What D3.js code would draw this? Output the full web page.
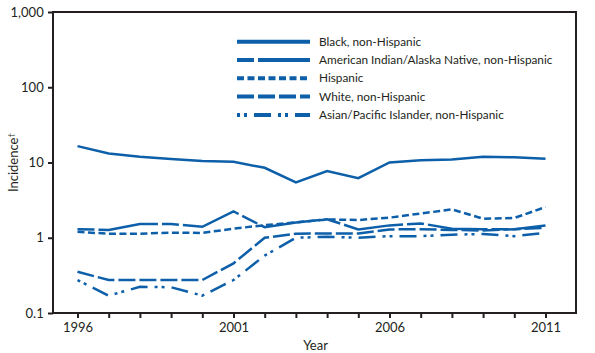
<!DOCTYPE html>
<html>
<head>
<meta charset="utf-8">
<script src="https://cdn.jsdelivr.net/npm/d3@7"></script>
<style>
  body { margin: 0; background: #fff; }
  svg text { font-family: Lato, "Open Sans", sans-serif; fill: #231f20; }
</style>
</head>
<body>
<script>
const years = d3.range(1996, 2012);
const black = [16.5, 13.2, 11.9, 11.1, 10.5, 10.2, 8.5, 5.45, 7.7, 6.2, 10.0, 10.7, 11.0, 11.9, 11.7, 11.2];
const aian = [1.3, 1.27, 1.52, 1.52, 1.4, 2.24, 1.38, 1.6, 1.76, 1.29, 1.46, 1.55, 1.32, 1.3, 1.3, 1.45];
const hispanic = [1.2, 1.13, 1.13, 1.17, 1.16, 1.32, 1.47, 1.6, 1.75, 1.72, 1.85, 2.1, 2.38, 1.79, 1.83, 2.56];
const white = [0.353, 0.274, 0.274, 0.274, 0.274, 0.457, 1.0, 1.13, 1.14, 1.14, 1.29, 1.3, 1.27, 1.25, 1.3, 1.35];
const asian = [0.274, 0.17, 0.223, 0.22, 0.17, 0.274, 0.58, 1.0, 1.03, 1.0, 1.05, 1.05, 1.1, 1.12, 1.05, 1.16];
const seriesNames = ["Black, non-Hispanic", "American Indian/Alaska Native, non-Hispanic", "Hispanic", "White, non-Hispanic", "Asian/Pacific Islander, non-Hispanic"];
const yTicks = [0.1, 1, 10, 100, 1000];
const xLabelYears = [1996, 2001, 2006, 2011];

const W = 595, H = 353;
const plot = { left: 53, right: 576, top: 12, bottom: 313 };
const blue = "#0c5fa8";
const ink = "#231f20";

const series = [
  { name: seriesNames[0], values: black, dash: null },
  { name: seriesNames[1], values: aian, dash: "17,4,60,4" },
  { name: seriesNames[2], values: hispanic, dash: "7,3.5" },
  { name: seriesNames[3], values: white, dash: "17,4" },
  { name: seriesNames[4], values: asian, dash: "3,4,3,7,17,7" }
];

const svg = d3.select("body").append("svg")
  .attr("width", W).attr("height", H);

const x = d3.scaleLinear().domain([1996, 2011]).range([77.5, 545.5]);
const y = d3.scaleLog().domain([0.1, 1000]).range([plot.bottom, plot.top]);

// frame
svg.append("rect")
  .attr("x", plot.left).attr("y", plot.top)
  .attr("width", plot.right - plot.left).attr("height", plot.bottom - plot.top)
  .attr("fill", "none").attr("stroke", ink).attr("stroke-width", 2);

const xAxis = d3.axisBottom(x)
  .tickValues(years)
  .tickSize(5).tickSizeOuter(0)
  .tickFormat(d => xLabelYears.includes(d) ? String(d) : "");
const gx = svg.append("g")
  .attr("transform", `translate(0,${plot.bottom})`)
  .call(xAxis);
gx.select(".domain").remove();
gx.selectAll(".tick line").attr("stroke", ink).attr("stroke-width", 2);
gx.selectAll(".tick text").attr("font-size", 13).attr("dy", "0.85em");

const yAxis = d3.axisLeft(y)
  .tickValues(yTicks)
  .tickSize(5).tickSizeOuter(0)
  .tickFormat(d3.format(","));
const gy = svg.append("g")
  .attr("transform", `translate(${plot.left},0)`)
  .call(yAxis);
gy.select(".domain").remove();
gy.selectAll(".tick line").attr("stroke", ink).attr("stroke-width", 2);
gy.selectAll(".tick text").attr("font-size", 13).attr("dx", "-0.1em");

svg.append("text")
  .attr("x", (77.5 + 545.5) / 2 + 4).attr("y", 350)
  .attr("text-anchor", "middle").attr("font-size", 13)
  .text("Year");

const yl = svg.append("text")
  .attr("transform", `translate(18,${(plot.top + plot.bottom) / 2}) rotate(-90)`)
  .attr("text-anchor", "middle").attr("font-size", 13);
yl.append("tspan").text("Incidence");
yl.append("tspan").attr("font-size", 8).attr("dy", "-0.5em").text("†");

const line = d3.line()
  .x((d, i) => x(years[i]))
  .y(d => y(d));

svg.selectAll("path.series")
  .data(series)
  .join("path")
  .attr("class", "series")
  .attr("d", d => line(d.values))
  .attr("fill", "none")
  .attr("stroke", blue)
  .attr("stroke-width", 2.5)
  .attr("stroke-dasharray", d => d.dash);

// legend
const lg = svg.append("g");
series.forEach((s, i) => {
  const ly = 41.7 + i * 18.3;
  lg.append("line")
    .attr("x1", 237).attr("x2", 310)
    .attr("y1", ly).attr("y2", ly)
    .attr("stroke", blue).attr("stroke-width", 4)
    .attr("stroke-dasharray", s.dash);
  lg.append("text")
    .attr("x", 319).attr("y", ly)
    .attr("dy", "0.35em").attr("font-size", 11.8)
    .text(s.name);
});
</script>
</body>
</html>
